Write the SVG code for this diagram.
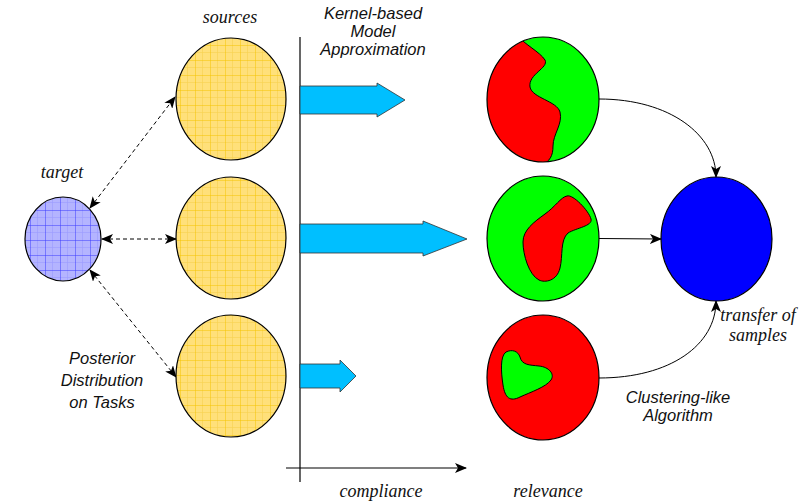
<svg xmlns="http://www.w3.org/2000/svg" width="807" height="504" viewBox="0 0 807 504">
  <style>
    .serif { font-family: "Liberation Serif", "DejaVu Serif", serif; font-style: italic; font-size: 18px; fill: #111; }
    .sans { font-family: "Liberation Sans", Arial, sans-serif; font-style: italic; font-size: 16.5px; fill: #111; }
    .outline { stroke: #000; stroke-width: 1.2; }
    .dash { fill: none; stroke: #000; stroke-width: 1; stroke-dasharray: 4 3; }
    .link { fill: none; stroke: #000; stroke-width: 1; }
    .fat { fill: #00BFFF; stroke: #333; stroke-width: 0.8; }
    .blob { stroke: #000; stroke-width: 1; }
  </style>
  <defs>
    <pattern id="gridYellow" patternUnits="userSpaceOnUse" width="15" height="15" x="0" y="0">
      <rect width="15" height="15" fill="#FFE07A"/>
      <path d="M7.5 0V15M0 7.5H15" stroke="#F7D250" stroke-width="0.6"/>
      <path d="M0 0V15M0 0H15" stroke="#F5C400" stroke-width="1"/>
    </pattern>
    <pattern id="gridBlue" patternUnits="userSpaceOnUse" width="15" height="15" x="0" y="0">
      <rect width="15" height="15" fill="#B4B4FF"/>
      <path d="M7.5 0V15M0 7.5H15" stroke="#9A9AFF" stroke-width="0.6"/>
      <path d="M0 0V15M0 0H15" stroke="#3A3AFF" stroke-width="1"/>
    </pattern>
    <marker id="head" viewBox="0 0 12 10" refX="11" refY="5" markerWidth="12" markerHeight="10" markerUnits="userSpaceOnUse" orient="auto-start-reverse">
      <path d="M0 0 L12 5 L0 10 L3 5 Z" fill="#000"/>
    </marker>
    <clipPath id="clipTop"><ellipse cx="543" cy="99.5" rx="56" ry="62.5"/></clipPath>
  </defs>

  <!-- axes -->
  <g id="axes">
    <line x1="300" y1="37" x2="300" y2="482" stroke="#000" stroke-width="1.2"/>
    <line x1="286" y1="468" x2="466" y2="468" stroke="#000" stroke-width="1.2" marker-end="url(#head)"/>
  </g>

  <!-- connectors -->
  <g id="connectors">
    <line class="dash" x1="90" y1="208" x2="175" y2="97" marker-start="url(#head)" marker-end="url(#head)"/>
    <line class="dash" x1="102" y1="239" x2="176" y2="239" marker-start="url(#head)" marker-end="url(#head)"/>
    <line class="dash" x1="90" y1="270" x2="176" y2="377" marker-start="url(#head)" marker-end="url(#head)"/>
    <path class="link" d="M599 99 C670 99 716 135 716 177" marker-end="url(#head)"/>
    <line class="link" x1="599" y1="238.5" x2="661" y2="239" marker-end="url(#head)"/>
    <path class="link" d="M599 378 C670 378 716 345 716 301" marker-end="url(#head)"/>
  </g>

  <!-- target -->
  <g id="target">
    <ellipse cx="63" cy="239" rx="38" ry="42" fill="url(#gridBlue)" class="outline"/>
    <text class="serif" x="62" y="178" text-anchor="middle">target</text>
  </g>

  <!-- sources -->
  <g id="source1">
    <ellipse cx="231" cy="99" rx="55" ry="61" fill="url(#gridYellow)" class="outline"/>
  </g>
  <g id="source2">
    <ellipse cx="231" cy="238" rx="55" ry="61" fill="url(#gridYellow)" class="outline"/>
  </g>
  <g id="source3">
    <ellipse cx="231" cy="376" rx="55" ry="61" fill="url(#gridYellow)" class="outline"/>
  </g>
  <text class="serif" x="230" y="23" text-anchor="middle">sources</text>

  <!-- model approximation arrows -->
  <g id="arrow1">
    <polygon class="fat" points="300,86 377,86 377,83 405,100 377,117 377,114 300,114"/>
  </g>
  <g id="arrow2">
    <polygon class="fat" points="300,224 423,224 423,221 467,239 423,256 423,253 300,253"/>
  </g>
  <g id="arrow3">
    <polygon class="fat" points="300,364 340,364 340,360 356,376 340,392 340,388 300,388"/>
  </g>
  <g id="kernelLabel">
    <text class="sans" x="373" y="19" text-anchor="middle">Kernel-based</text>
    <text class="sans" x="373" y="37" text-anchor="middle">Model</text>
    <text class="sans" x="373" y="55" text-anchor="middle">Approximation</text>
  </g>

  <!-- relevance clusters -->
  <g id="cluster1">
    <ellipse cx="543" cy="99.5" rx="56" ry="62.5" fill="#00FF00"/>
    <path class="blob" clip-path="url(#clipTop)" fill="#FF0000"
          d="M518 36 C524 44 540 52 545 60 C549 68 528 74 530 87 C532 98 557 101 560 112 C563 124 553 134 553 146 C553 156 550 161 541 166 L470 170 L470 30 Z"/>
    <ellipse cx="543" cy="99.5" rx="56" ry="62.5" fill="none" class="outline"/>
  </g>
  <g id="cluster2">
    <ellipse cx="543" cy="238.5" rx="56" ry="62.5" fill="#00FF00" class="outline"/>
    <path class="blob" fill="#FF0000"
          d="M567 196 C573 194 589 211 591 219 C593 226 576 228 568 233 C560 240 563 256 560 268 C557 281 545 283 539 280 C529 275 523 255 523 242 C523 230 534 222 545 214 C555 207 561 197 567 196 Z"/>
  </g>
  <g id="cluster3">
    <ellipse cx="543" cy="377.5" rx="56" ry="62.5" fill="#FF0000" class="outline"/>
    <path class="blob" fill="#00FF00"
          d="M506 352 C512 349 518 351 520 357 C522 365 529 365 539 366 C549 367 555 374 551 380 C546 387 531 392 520 397 C510 402 505 398 503 385 C501 372 500 356 506 352 Z"/>
  </g>

  <!-- merged result -->
  <g id="result">
    <ellipse cx="716.5" cy="239" rx="55.5" ry="62" fill="#0000FF" class="outline"/>
  </g>

  <!-- labels -->
  <g id="posteriorLabel">
    <text class="sans" x="102" y="364" text-anchor="middle">Posterior</text>
    <text class="sans" x="102" y="386" text-anchor="middle">Distribution</text>
    <text class="sans" x="102" y="408" text-anchor="middle">on Tasks</text>
  </g>
  <g id="clusteringLabel">
    <text class="sans" x="678" y="403" text-anchor="middle">Clustering-like</text>
    <text class="sans" x="678" y="421" text-anchor="middle">Algorithm</text>
  </g>
  <g id="transferLabel">
    <text class="serif" x="758" y="321" text-anchor="middle" font-size="17">transfer of</text>
    <text class="serif" x="758" y="341" text-anchor="middle" font-size="17">samples</text>
  </g>
  <text class="serif" x="381" y="497" text-anchor="middle">compliance</text>
  <text class="serif" x="548" y="497" text-anchor="middle">relevance</text>
</svg>
